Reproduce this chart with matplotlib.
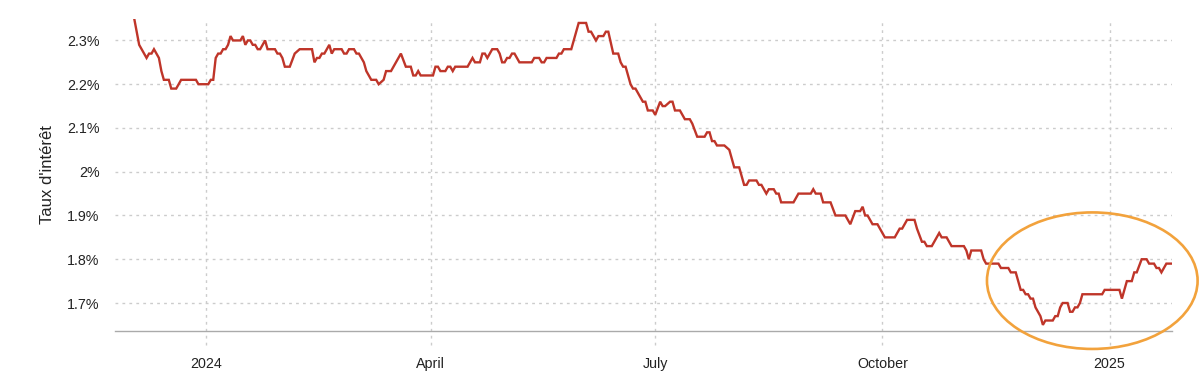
import numpy as np
import pandas as pd
import matplotlib
matplotlib.use("Agg")
import matplotlib.pyplot as plt
import matplotlib.dates as mdates
from matplotlib.patches import Ellipse

plt.rcParams['font.family'] = ['Liberation Sans', 'DejaVu Sans']

# ------------------------------------------------------------------
# data (days counted from 2024-01-01, rate in %)
base_date = pd.Timestamp("2024-01-01")

days = [
    -29, -27, -26, -24, -23, -22, -21, -20, -19, -18,
    -17, -15, -14, -12, -10, -4, -3, 1, 2, 3,
    4, 5, 6, 7, 8, 9, 10, 11, 14, 15,
    16, 17, 18, 19, 20, 21, 22, 24, 25, 28,
    29, 30, 31, 32, 34, 36, 38, 43, 44, 45,
    46, 47, 48, 49, 50, 51, 52, 55, 56, 57,
    58, 60, 61, 62, 64, 65, 67, 69, 70, 72,
    73, 75, 77, 79, 81, 83, 84, 85, 86, 87,
    92, 93, 94, 95, 97, 98, 99, 100, 101, 106,
    108, 109, 111, 112, 113, 114, 116, 118, 119, 120,
    121, 122, 123, 124, 125, 127, 132, 133, 135, 136,
    137, 138, 142, 143, 144, 145, 148, 149, 151, 154,
    155, 156, 158, 159, 161, 162, 163, 165, 167, 168,
    169, 170, 172, 173, 174, 176, 177, 178, 179, 181,
    182, 184, 185, 186, 188, 189, 190, 192, 194, 196,
    197, 199, 202, 203, 204, 205, 206, 207, 210, 212,
    213, 214, 216, 218, 219, 220, 223, 224, 225, 227,
    228, 230, 231, 232, 233, 238, 240, 245, 246, 247,
    249, 250, 253, 255, 259, 261, 263, 265, 266, 267,
    268, 270, 272, 275, 279, 281, 282, 284, 287, 288,
    290, 291, 292, 294, 297, 298, 300, 302, 307, 308,
    309, 310, 314, 315, 316, 321, 322, 325, 326, 328,
    329, 330, 331, 332, 333, 334, 335, 336, 338, 339,
    340, 343, 344, 345, 346, 347, 349, 350, 351, 352,
    353, 354, 355, 363, 364, 370, 371, 372, 373, 375,
    376, 377, 379, 381, 382, 384, 385, 386, 387, 389,
    391,
]

rate = [
    2.35, 2.29, 2.28, 2.26, 2.27, 2.27, 2.28, 2.27, 2.26, 2.23,
    2.21, 2.21, 2.19, 2.19, 2.21, 2.21, 2.20, 2.20, 2.21, 2.21,
    2.26, 2.27, 2.27, 2.28, 2.28, 2.29, 2.31, 2.30, 2.30, 2.31,
    2.29, 2.30, 2.30, 2.29, 2.29, 2.28, 2.28, 2.30, 2.28, 2.28,
    2.27, 2.27, 2.26, 2.24, 2.24, 2.27, 2.28, 2.28, 2.25, 2.26,
    2.26, 2.27, 2.27, 2.28, 2.29, 2.27, 2.28, 2.28, 2.27, 2.27,
    2.28, 2.28, 2.27, 2.27, 2.25, 2.23, 2.21, 2.21, 2.20, 2.21,
    2.23, 2.23, 2.25, 2.27, 2.24, 2.24, 2.22, 2.22, 2.23, 2.22,
    2.22, 2.24, 2.24, 2.23, 2.23, 2.24, 2.24, 2.23, 2.24, 2.24,
    2.26, 2.25, 2.25, 2.27, 2.27, 2.26, 2.28, 2.28, 2.27, 2.25,
    2.25, 2.26, 2.26, 2.27, 2.27, 2.25, 2.25, 2.26, 2.26, 2.25,
    2.25, 2.26, 2.26, 2.27, 2.27, 2.28, 2.28, 2.30, 2.34, 2.34,
    2.32, 2.32, 2.30, 2.31, 2.31, 2.32, 2.32, 2.27, 2.27, 2.25,
    2.24, 2.24, 2.20, 2.19, 2.19, 2.17, 2.16, 2.16, 2.14, 2.14,
    2.13, 2.16, 2.15, 2.15, 2.16, 2.16, 2.14, 2.14, 2.12, 2.12,
    2.11, 2.08, 2.08, 2.09, 2.09, 2.07, 2.07, 2.06, 2.06, 2.05,
    2.03, 2.01, 2.01, 1.97, 1.97, 1.98, 1.98, 1.97, 1.97, 1.95,
    1.96, 1.96, 1.95, 1.95, 1.93, 1.93, 1.95, 1.95, 1.96, 1.95,
    1.95, 1.93, 1.93, 1.90, 1.90, 1.88, 1.91, 1.91, 1.92, 1.90,
    1.90, 1.88, 1.88, 1.85, 1.85, 1.87, 1.87, 1.89, 1.89, 1.87,
    1.84, 1.84, 1.83, 1.83, 1.86, 1.85, 1.85, 1.83, 1.83, 1.82,
    1.80, 1.82, 1.82, 1.80, 1.79, 1.79, 1.78, 1.78, 1.77, 1.77,
    1.75, 1.73, 1.73, 1.72, 1.72, 1.71, 1.71, 1.69, 1.67, 1.65,
    1.66, 1.66, 1.67, 1.67, 1.69, 1.70, 1.70, 1.68, 1.68, 1.69,
    1.69, 1.70, 1.72, 1.72, 1.73, 1.73, 1.71, 1.73, 1.75, 1.75,
    1.77, 1.77, 1.80, 1.80, 1.79, 1.79, 1.78, 1.78, 1.77, 1.79,
    1.79,
]

tick_dates = ["2024-01-01", "2024-04-01", "2024-07-01", "2024-10-01", "2025-01-01"]
tick_labels = ["2024", "April", "July", "October", "2025"]
y_ticks = [1.7, 1.8, 1.9, 2.0, 2.1, 2.2, 2.3]

# highlighted zone (orange ellipse): centre date / rate, size in days / rate
circle_center = ("2024-12-25", 1.751)
circle_size = (85.3, 0.312)

# ------------------------------------------------------------------
dates = base_date + pd.to_timedelta(days, unit="D")

fig = plt.figure(figsize=(12, 3.84), dpi=100)
ax = fig.add_axes([0.0958, 0.138, 0.8809, 0.8125])

grid_col = "#cccccc"
for v in y_ticks:
    ax.axhline(v, color=grid_col, lw=1, ls=(0, (2, 3)), zorder=1)
for d in tick_dates:
    ax.axvline(pd.Timestamp(d), ymin=-0.045, ymax=1, color=grid_col, lw=1,
               ls=(0, (2, 3)), clip_on=False, zorder=1)

ax.plot(dates, rate, color="#bf3529", lw=1.7, zorder=3,
        solid_joinstyle="miter")

ell = Ellipse((mdates.date2num(pd.Timestamp(circle_center[0])), circle_center[1]),
              circle_size[0], circle_size[1], fill=False, ec="#f2a23c",
              lw=1.9, clip_on=False, zorder=4)
ax.add_patch(ell)

ax.set_xlim(base_date - pd.Timedelta(days=36.8), base_date + pd.Timedelta(days=391.3))
ax.set_ylim(1.636, 2.349)

ax.set_xticks([pd.Timestamp(d) for d in tick_dates])
ax.set_xticklabels(tick_labels)
ax.set_yticks(y_ticks)
ax.set_yticklabels([f"{v:g}%" for v in y_ticks])
ax.tick_params(axis="x", length=0, pad=18.5, labelsize=10.3, colors="#222222")
ax.tick_params(axis="y", length=0, pad=11, labelsize=10.3, colors="#222222")

for s in ["top", "right", "left"]:
    ax.spines[s].set_visible(False)
ax.spines["bottom"].set_color("#aaaaaa")
ax.spines["bottom"].set_linewidth(1)

ax.set_ylabel("Taux d'intérêt", fontsize=12, color="#222222", labelpad=9)

fig.savefig("out.png", dpi=100)
